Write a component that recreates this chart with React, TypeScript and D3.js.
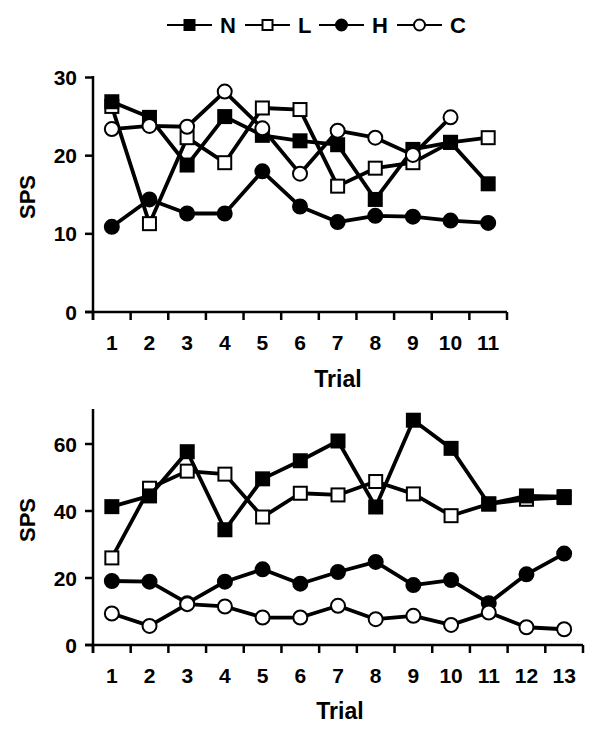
import React from 'react';
import * as d3 from 'd3';

// ---------- DATA ----------
const trialsTop = [1, 2, 3, 4, 5, 6, 7, 8, 9, 10, 11];
const topN = [26.9, 24.9, 18.8, 25.0, 22.6, 21.9, 21.4, 14.4, 20.8, 21.7, 16.4];
const topL = [26.3, 11.3, 22.3, 19.1, 26.1, 25.9, 16.1, 18.4, 19.1, 21.7, 22.3];
const topH = [10.9, 14.4, 12.6, 12.6, 18.0, 13.5, 11.5, 12.3, 12.2, 11.7, 11.4];
const topC = [23.4, 23.8, 23.7, 28.2, 23.5, 17.7, 23.2, 22.3, 20.1, 24.9];
const topYTicks = [0, 10, 20, 30];

const trialsBottom = [1, 2, 3, 4, 5, 6, 7, 8, 9, 10, 11, 12, 13];
const botN = [41.3, 44.5, 57.7, 34.4, 49.6, 55.0, 60.9, 41.2, 67.1, 58.7, 42.1, 44.5, 44.3];
const botL = [26.0, 46.8, 51.9, 51.0, 38.2, 45.3, 44.8, 48.8, 45.1, 38.6, 42.1, 43.5, 44.0];
const botH = [19.1, 18.9, 12.5, 18.9, 22.6, 18.3, 21.8, 24.8, 17.9, 19.4, 12.5, 21.1, 27.3];
const botC = [9.4, 5.7, 12.2, 11.5, 8.2, 8.2, 11.7, 7.7, 8.7, 6.0, 9.7, 5.3, 4.7];
const botYTicks = [0, 20, 40, 60];

const seriesNames = ['N', 'L', 'H', 'C'];

type Shape = 'sq' | 'circ';
const styleOf: Record<string, { shape: Shape; fill: string }> = {
  N: { shape: 'sq', fill: '#000' },
  L: { shape: 'sq', fill: '#fff' },
  H: { shape: 'circ', fill: '#000' },
  C: { shape: 'circ', fill: '#fff' },
};

const FONT = "'Liberation Sans', Arial, Helvetica, sans-serif";

function Marker({ name, x, y, size }: { name: string; x: number; y: number; size: number }) {
  const s = styleOf[name];
  if (s.shape === 'sq') {
    return <rect x={x - size / 2} y={y - size / 2} width={size} height={size} fill={s.fill} stroke="#000" strokeWidth={2} />;
  }
  return <circle cx={x} cy={y} r={size / 2 + 0.5} fill={s.fill} stroke="#000" strokeWidth={2} />;
}

function Panel({ trials, data, yMax, yTicks, left, right, top, bottom, labelX, trialY, spsY }: any) {
  const x = d3.scaleBand<number>().domain(trials).range([left, right]).paddingInner(0).paddingOuter(0);
  const y = d3.scaleLinear().domain([0, yMax]).range([bottom, top]);
  const cx = (t: number) => (x(t) as number) + x.bandwidth() / 2;
  const line = d3.line<number>().x((_, i) => cx(trials[i])).y((v) => y(v));
  const order = ['L', 'H', 'N', 'C'];
  const boundaries = d3.range(trials.length + 1).map((i) => left + i * x.step());
  return (
    <g>
      <line x1={left} x2={left} y1={y(yMax) - 1.5} y2={bottom + 8} stroke="#000" strokeWidth={2.5} />
      <line x1={left - 8} x2={right} y1={bottom} y2={bottom} stroke="#000" strokeWidth={2.5} />
      {yTicks.map((t: number) => (
        <g key={'yt' + t}>
          <line x1={left - 8} x2={left} y1={y(t)} y2={y(t)} stroke="#000" strokeWidth={2.5} />
          <text x={left - 16} y={y(t)} dy="0.36em" textAnchor="end" fontFamily={FONT} fontWeight="bold" fontSize={21}>
            {t}
          </text>
        </g>
      ))}
      {boundaries.map((b: number, i: number) => (
        <line key={'xt' + i} x1={b} x2={b} y1={bottom} y2={bottom + 8} stroke="#000" strokeWidth={2.5} />
      ))}
      {trials.map((t: number) => (
        <text key={'xl' + t} x={cx(t)} y={bottom + 38} textAnchor="middle" fontFamily={FONT} fontWeight="bold" fontSize={21}>
          {t}
        </text>
      ))}
      <text x={labelX} y={trialY} textAnchor="middle" fontFamily={FONT} fontWeight="bold" fontSize={23}>
        Trial
      </text>
      <text transform={`translate(27,${spsY}) rotate(-90)`} textAnchor="middle" dy="0.36em" fontFamily={FONT} fontWeight="bold" fontSize={22}>
        SPS
      </text>
      {order.map((name) => {
        const vals: number[] = data[name];
        return (
          <g key={name}>
            <path d={line(vals) as string} fill="none" stroke="#000" strokeWidth={3.8} strokeLinejoin="round" />
            {vals.map((v, i) => (
              <Marker key={i} name={name} x={cx(trials[i])} y={y(v)} size={13} />
            ))}
          </g>
        );
      })}
    </g>
  );
}

export default function App() {
  const legendX = [167, 245, 319, 397];
  return (
    <svg width={600} height={731} style={{ position: 'fixed', left: 0, top: 0, background: '#fff' }}>
      <rect width={600} height={731} fill="#fff" />
      {seriesNames.map((name, i) => (
        <g key={name}>
          <line x1={legendX[i]} x2={legendX[i] + 45} y1={25} y2={25} stroke="#000" strokeWidth={2} />
          <Marker name={name} x={legendX[i] + 22.5} y={25} size={10} />
          <text x={legendX[i] + 53} y={25} dy="0.36em" fontFamily={FONT} fontWeight="bold" fontSize={22}>
            {name}
          </text>
        </g>
      ))}
      <Panel
        trials={trialsTop}
        data={{ N: topN, L: topL, H: topH, C: topC }}
        yMax={30}
        yTicks={topYTicks}
        left={93}
        right={507}
        top={77.5}
        bottom={312}
        labelX={338}
        trialY={387}
        spsY={197}
      />
      <Panel
        trials={trialsBottom}
        data={{ N: botN, L: botL, H: botH, C: botC }}
        yMax={70}
        yTicks={botYTicks}
        left={93}
        right={583}
        top={410.5}
        bottom={645}
        labelX={340}
        trialY={719}
        spsY={520}
      />
    </svg>
  );
}
